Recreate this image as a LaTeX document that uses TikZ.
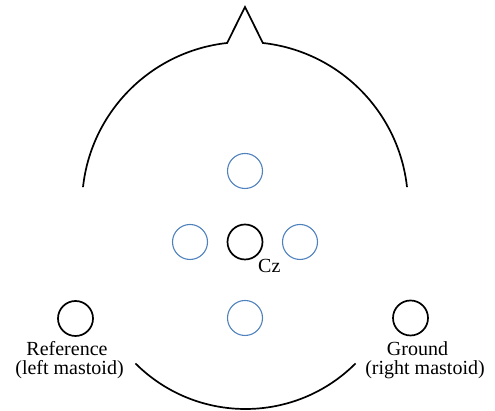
\documentclass[tikz,border=0pt]{standalone}
\usepackage{fontspec}
\usetikzlibrary{calc}
\setmainfont{Liberation Serif}
\definecolor{elblue}{RGB}{79,129,189}
\begin{document}
\begin{tikzpicture}[x=1pt,y=1pt,
  headline/.style={line width=1.7pt,line join=miter},
  elec/.style={circle,draw=black,line width=1.7pt,minimum size=35pt,inner sep=0pt},
  belec/.style={circle,draw=elblue,line width=1.1pt,minimum size=35pt,inner sep=0pt},
  lbl/.style={font=\fontsize{20}{20}\selectfont,align=center,inner sep=0pt}]
\useasboundingbox (0,0) rectangle (495,411);
% head outline
\coordinate (hc) at (245,206);
\coordinate (apex) at (245,404);
\coordinate (nl) at ($(hc)+(96.3:163)$);
\coordinate (nr) at ($(hc)+(83.7:163)$);
\coordinate (hl) at ($(hc)+(173.7:163)$);
\draw[headline] (hl) arc[start angle=173.7,end angle=96.3,radius=163]
  -- (apex) -- (nr) arc[start angle=83.7,end angle=6.3,radius=163];
\coordinate (bc) at (245.5,157.7);
\coordinate (bl) at ($(bc)+(225:155.7)$);
\draw[headline] (bl) arc[start angle=225,end angle=315,radius=155.7];
% electrodes
\node[belec] (top) at (245,240) {};
\node[belec] (left) at (190,169) {};
\node[elec] (cz) at (245,169) {};
\node[belec] (right) at (300,169) {};
\node[belec] (bottom) at (245,93) {};
\node[elec] (ref) at (75.5,92.5) {};
\node[elec] (gnd) at (410.5,93) {};
% labels
\node[lbl,anchor=base west] (czl) at (258,138) {Cz};
\node[lbl,anchor=base] (refl1) at (67,55) {Reference};
\node[lbl,anchor=base] (refl2) at (69.5,36) {(left mastoid)};
\node[lbl,anchor=base] (gndl1) at (417.5,55) {Ground};
\node[lbl,anchor=base] (gndl2) at (425,36) {(right mastoid)};
\end{tikzpicture}
\end{document}
